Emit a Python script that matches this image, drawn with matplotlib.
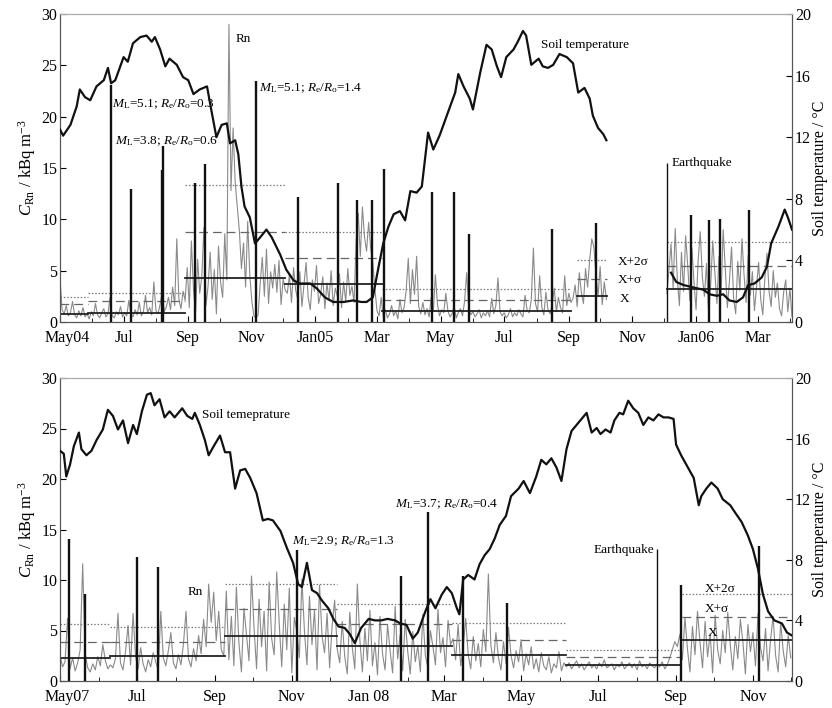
import numpy as np
import matplotlib
matplotlib.use("Agg")
import matplotlib.pyplot as plt
import matplotlib.dates as mdates
import matplotlib.transforms as mtransforms

plt.rcParams["font.family"] = ["Liberation Serif", "DejaVu Serif"]
plt.rcParams["mathtext.fontset"] = "custom"
plt.rcParams["mathtext.rm"] = "Liberation Serif"
plt.rcParams["mathtext.it"] = "Liberation Serif:italic"

NAN = np.nan

# ---------------- panel 1: May 2004 - Apr 2006 ----------------
top_start = "2004-05-01"
top_end_day = 702
top_tick_labels = ["May04", "Jul", "Sep", "Nov", "Jan05", "Mar",
                   "May", "Jul", "Sep", "Nov", "Jan06", "Mar"]

# Rn concentration (kBq m-3), one value every 2 days
top_rn_a = [4.3, 1.2, 0.8, 1.6, 0.6, 0.9, 2.0, 0.7, 0.4, 1.1, 0.6, 1.4, 0.5, 0.8, 0.3,
            1.0, 0.6, 1.8, 0.7, 0.4, 0.9, 1.3, 0.5, 0.8, 2.4, 0.6, 0.4, 1.0, 0.7, 1.5,
            0.5, 0.9, 0.6, 2.1, 0.8, 0.5, 1.2, 0.7, 1.9, 0.6, 1.0, 2.6, 0.9, 1.4, 0.7,
            3.9, 1.1, 0.8, 1.7, 2.9, 1.0, 1.5, 2.4, 1.2, 3.4, 1.6, 8.1, 2.2, 1.3, 3.0]
top_rn_c = [2.1, 5.3, 1.4, 7.9, 3.2, 0.9, 6.1, 2.8, 4.4, 9.2, 1.6, 3.5, 6.8, 2.2, 5.1,
            0.8, 7.4, 3.9, 2.4, 8.6, 4.1,
            29.0, 12.8, 18.9, 13.6, 11.2, 8.9, 5.2, 7.7, 3.4, 9.8, 4.6, 2.0, 0.6, 0.4,
            0.7, 3.8, 6.3, 2.5, 7.1, 1.8, 4.9, 3.3, 5.6, 2.9, 6.0, 1.7, 4.2, 3.1]
top_rn_d = [2.8, 4.6, 1.9, 5.3, 3.1, 2.2, 4.9, 1.5, 3.6, 5.8, 2.4, 1.2, 4.1, 3.0, 5.5,
            1.8, 2.7, 4.4, 1.3, 3.8, 2.1, 5.0, 1.6, 3.3, 2.5, 4.7, 1.4, 3.9, 2.0, 5.2,
            2.6, 3.5, 1.9, 7.8, 10.6, 6.4, 11.2, 8.3, 6.9, 9.7, 7.1, 5.8, 3.2, 1.1, 0.6, 2.4]
top_rn_e = [0.5, 1.2, 0.4, 0.8, 1.6, 0.6, 1.1, 0.3, 2.2, 0.9,
            1.4, 3.1, 6.2, 1.8, 5.1, 2.7, 6.4, 1.5, 0.8, 1.9,
            0.7, 1.3, 0.5, 2.4, 1.0, 4.6, 1.7, 0.6, 1.2, 0.9,
            2.8, 1.1, 0.5, 0.8, 1.5, 0.4, 0.9, 1.3, 0.6, 2.0,
            4.8, 1.4, 0.7, 1.0, 0.5, 0.8, 1.2, 0.4, 0.9, 0.6,
            1.1, 0.5, 2.3, 0.8, 1.6, 4.3, 1.0, 0.6, 0.9, 0.4,
            0.7, 1.3, 0.5, 0.9, 0.6, 1.2, 0.8, 0.5, 2.6, 1.1,
            0.9, 2.2, 7.2, 1.8, 1.0, 4.5, 1.5, 0.7, 2.9, 1.2,
            0.8, 1.7, 3.3, 1.0, 2.4, 1.4, 0.9, 4.5, 1.6, 2.8, 1.9]
top_rn_f = [2.3, 3.6, 1.5, 4.8, 2.9, 1.8, 5.2, 3.4, 6.1, 8.1, 7.3, 4.6, 2.5, 5.4, 1.7,
            3.9, 2.2]
top_rn_gap = [NAN] * 28
top_rn_g = [2.8, 5.1, 7.6, 3.3, 9.1, 4.2, 1.6, 6.8, 3.0, 8.4,
            5.5, 2.1, 7.2, 3.9, 1.2, 6.0, 8.8, 4.4, 2.5, 5.7,
            0.9, 3.6, 7.9, 4.8, 1.8, 6.4, 2.7, 9.0, 5.2, 1.4,
            4.0, 7.3, 2.3, 0.8, 5.9, 3.1, 8.1, 4.6, 1.9, 6.5,
            2.6, 4.9, 1.1, 3.5, 5.8, 2.2, 0.7, 4.3, 6.7, 3.0,
            1.5, 5.0, 2.4, 3.8, 1.3, 0.6, 2.9, 4.1, 1.0, 3.3, 0.5, 2.0]

# soil temperature (deg C), day offset from start
top_temp_day = [0, 3, 10, 16, 19, 24, 29, 35, 42, 46, 49, 53, 61, 65, 70, 77, 83, 88, 91,
                96, 101, 105, 112, 118, 123, 128, 134, 141, 145, 150, 155, 160, 163, 168,
                171, 174, 177, 182, 187, 192, 198, 203, 211, 217, 224, 230, 240, 246, 254,
                262, 272, 281, 289, 294, 300, 305, 310, 315, 320, 326, 331, 336, 342, 347,
                353, 358, 364, 372, 379, 382, 387, 393, 396, 403, 409, 414, 419, 423, 428,
                435, 439, 444, 447, 452, 459, 463, 468, 473, 479, 486, 492, 497, 503, 508,
                511, 516, 521, 524, 555, 586, 591, 598, 604, 610, 617, 623, 630, 636, 642,
                649, 655, 660, 666, 673, 678, 682, 689, 695, 698, 702]
top_temp_val = [12.5, 12.1, 12.8, 14.0, 15.1, 14.6, 14.4, 15.3, 15.7, 16.5, 15.5, 15.7,
                17.2, 16.9, 18.1, 18.5, 18.6, 18.2, 18.5, 17.7, 16.6, 17.1, 16.7, 15.9,
                15.7, 14.8, 15.1, 15.3, 13.8, 12.0, 12.8, 12.9, 11.6, 11.8, 10.9, 8.8,
                7.5, 6.8, 5.1, 5.5, 6.0, 5.5, 4.4, 3.4, 2.7, 2.5, 2.5, 2.2, 1.6, 1.3, 1.3,
                1.4, 1.3, 1.3, 1.6, 3.4, 5.1, 6.2, 7.0, 7.2, 6.6, 8.5, 8.4, 8.8, 12.3,
                11.2, 12.1, 13.6, 14.9, 16.1, 15.3, 14.5, 13.8, 16.2, 18.0, 17.7, 16.6,
                15.9, 17.2, 17.7, 18.2, 18.9, 18.6, 16.7, 17.1, 16.6, 16.5, 16.7, 17.4,
                17.2, 16.8, 14.9, 15.2, 14.5, 13.4, 12.6, 12.2, 11.8, NAN, 3.2, 2.6, 2.4,
                2.3, 2.2, 2.1, 1.8, 1.7, 1.8, 1.4, 1.3, 1.6, 2.4, 2.5, 2.9, 3.6, 5.1, 6.2,
                7.3, 6.8, 6.0]

# earthquakes: day offset and line height (kBq m-3 scale)
top_eq_day = [49, 68, 98, 99, 129, 139, 188, 228, 267, 285, 299, 311, 357, 378, 392,
              472, 514, 582, 605, 622, 633, 661]
top_eq_h = [23.1, 13.0, 14.8, 17.1, 13.5, 15.4, 23.5, 12.2, 13.5, 11.9, 11.9, 14.9,
            12.7, 12.7, 8.6, 9.1, 9.6, 15.5, 10.4, 9.9, 10.0, 10.9]

# period statistics: start/end day, mean X, X+sigma, X+2sigma
top_per_start = [0, 27, 120, 216, 309, 496, 582]
top_per_end = [27, 120, 216, 309, 490, 525, 705]
top_x = [0.8, 0.9, 4.3, 3.7, 1.1, 2.5, 3.2]
top_x1 = [1.8, 2.0, 8.8, 6.2, 2.1, 4.2, 5.5]
top_x2 = [2.4, 2.8, 13.3, 8.8, 3.2, 6.0, 7.8]

# ---------------- panel 2: May 2007 - Dec 2008 ----------------
bot_start = "2007-05-01"
bot_end_day = 581
bot_tick_labels = ["May07", "Jul", "Sep", "Nov", "Jan 08", "Mar",
                   "May", "Jul", "Sep", "Nov"]

bot_rn_a = [2.6, 1.4, 1.9, 6.2, 1.2, 2.3, 1.0, 1.8, 3.1, 11.6, 2.7, 1.3, 0.9, 1.7, 1.1,
            2.4, 1.5, 3.6, 2.0, 1.2, 1.6]
bot_rn_b = [1.3, 2.2, 6.7, 1.8, 1.1, 2.9, 5.5, 1.6, 6.7, 2.4, 1.2, 3.3, 1.7, 0.9, 2.1,
            1.4, 2.8, 1.9, 1.0, 6.9, 2.3, 1.5, 3.0, 4.8, 1.8, 1.2, 2.6, 1.6, 3.7, 6.9,
            2.2, 1.4, 3.2, 2.0, 4.5, 2.7, 6.1, 3.4, 9.6, 5.8, 8.8, 4.0, 6.9, 3.1, 2.5]
bot_rn_c = [8.9, 2.1, 6.4, 1.5, 9.3, 3.8, 0.9, 7.2, 4.6, 2.0, 10.4, 5.3, 1.2, 8.1, 3.4,
            6.9, 1.0, 9.8, 4.2, 2.6, 10.8, 5.7, 1.4, 7.6, 3.1, 9.2, 0.8, 6.3, 4.9, 2.3,
            10.1, 5.0, 1.6, 8.4, 3.6, 7.0, 1.1, 9.5, 4.4, 2.8, 6.7, 1.3, 5.5, 8.0, 3.2]
bot_rn_d = [1.8, 5.9, 2.4, 0.7, 6.8, 3.3, 1.2, 9.6, 4.1, 0.9, 5.2, 2.0, 7.0, 1.5, 3.8,
            0.6, 6.4, 2.7, 1.1, 5.6, 3.0, 0.8, 7.4, 2.2, 4.6, 1.0, 6.1, 2.9, 0.7, 4.9,
            1.9, 3.5, 0.9, 6.6, 2.5, 1.3, 5.0, 3.4, 1.6, 7.1, 2.8, 4.3, 1.4, 6.0, 3.6]
bot_rn_e = [4.2, 2.1, 5.6, 1.5, 3.3, 6.2, 2.6, 1.2, 4.4, 2.0, 3.7, 1.4, 5.1, 2.9, 10.6,
            3.5, 1.8, 4.8, 2.3, 1.1, 3.9, 1.7, 5.3, 2.5, 1.3, 3.0, 1.9, 4.1, 1.0, 2.7,
            1.6, 3.4, 1.2, 2.2, 0.9, 2.8, 1.5, 1.1, 2.4, 0.8, 1.7, 1.3, 2.9, 1.0, 1.8]
bot_rn_f = [1.4, 1.8, 1.2, 1.6, 2.0, 1.3, 1.7, 1.1, 1.5, 1.9, 1.3, 1.6, 1.2, 1.8, 1.4,
            2.1, 1.3, 1.5, 1.7, 1.1, 1.6, 1.4, 1.9, 1.2, 1.5, 1.8, 1.3, 1.7, 1.1, 2.0,
            1.4, 1.6, 1.2, 1.8, 1.5, 1.3, 1.7, 1.4, 1.9, 1.2, 1.6, 2.3, 3.1, 3.9, 3.4]
bot_rn_g = [4.6, 2.1, 6.3, 3.2, 0.9, 5.4, 2.6, 6.9, 3.8, 1.3, 5.9, 2.4, 4.7, 0.8, 6.5,
            3.1, 1.7, 5.0, 2.8, 6.8, 3.6, 1.1, 4.4, 2.2, 6.1, 3.9, 0.7, 5.6, 2.9, 4.8,
            1.5, 6.7, 3.3, 2.0, 5.2, 1.0, 4.1, 6.4, 2.5, 0.9, 5.8, 3.0, 1.4, 4.5, 2.3]

bot_temp_day = [0, 3, 5, 8, 11, 15, 17, 21, 25, 29, 34, 38, 42, 46, 50, 54, 58, 61, 65,
                69, 72, 75, 79, 83, 87, 91, 97, 101, 105, 107, 111, 115, 118, 122, 127,
                131, 135, 139, 143, 147, 151, 156, 161, 165, 169, 175, 180, 185, 189, 192,
                196, 200, 204, 208, 213, 217, 221, 226, 230, 234, 239, 245, 250, 255, 260,
                266, 270, 275, 280, 284, 290, 294, 298, 303, 307, 311, 315, 317, 320, 324,
                329, 333, 337, 341, 345, 349, 354, 358, 364, 368, 373, 378, 382, 386, 390,
                394, 398, 402, 406, 410, 414, 418, 422, 426, 429, 433, 437, 440, 444, 447,
                451, 455, 459, 463, 467, 471, 475, 479, 483, 487, 489, 493, 497, 503, 507,
                509, 513, 517, 522, 526, 532, 536, 541, 546, 550, 554, 558, 562, 567, 573,
                577, 581]
bot_temp_val = [15.2, 15.0, 13.5, 14.3, 15.5, 16.4, 15.3, 14.9, 15.2, 15.9, 16.6, 17.9,
                17.5, 16.6, 17.2, 15.7, 16.9, 16.3, 17.8, 18.9, 19.0, 18.2, 18.6, 17.4,
                17.8, 17.4, 18.0, 17.5, 17.3, 17.7, 16.9, 15.9, 14.9, 15.5, 16.2, 15.1,
                15.1, 12.7, 13.9, 14.0, 13.4, 12.4, 10.6, 10.7, 10.6, 9.9, 8.8, 7.8, 6.4,
                6.2, 7.8, 6.0, 5.8, 5.3, 4.8, 4.1, 3.6, 3.5, 3.1, 2.5, 3.5, 4.1, 4.0, 4.0,
                4.1, 4.0, 3.8, 3.7, 2.8, 3.2, 4.6, 5.4, 4.8, 5.7, 6.2, 5.8, 4.8, 4.4, 6.7,
                7.0, 6.7, 7.7, 8.3, 8.7, 9.4, 10.3, 10.9, 12.2, 12.7, 13.2, 12.4, 13.5,
                14.6, 14.3, 14.7, 14.1, 13.2, 15.3, 16.5, 16.9, 17.3, 17.7, 16.4, 16.7,
                16.3, 16.6, 16.4, 17.2, 17.7, 17.6, 18.5, 18.0, 17.7, 16.9, 17.4, 17.2,
                17.6, 17.4, 17.4, 17.3, 15.6, 14.9, 14.3, 13.4, 11.6, 12.2, 12.7, 13.1,
                12.7, 12.0, 11.6, 11.1, 10.5, 9.6, 8.7, 7.4, 5.7, 4.6, 4.0, 3.8, 3.2, 3.0]

bot_eq_day = [7, 20, 61, 78, 188, 271, 292, 320, 355, 474, 493, 555]
bot_eq_h = [14.1, 8.6, 12.3, 11.3, 13.0, 10.4, 16.7, 10.4, 7.7, 13.1, 9.5, 13.4]

bot_per_start = [0, 40, 131, 220, 311, 402, 494]
bot_per_end = [40, 131, 220, 311, 402, 492, 581]
bot_x = [2.3, 2.5, 4.5, 3.45, 2.6, 1.6, 4.1]
bot_x1 = [3.9, 3.9, 7.1, 5.6, 4.1, 2.4, 6.3]
bot_x2 = [5.6, 5.3, 9.6, 7.6, 5.7, 3.1, 8.6]

ML_TXT = r"$M_{\rm L}$=%s; $R_{\rm e}/R_{\rm o}$=%s"


def days_to_dates(start, days):
    t0 = np.datetime64(start, "D")
    return t0 + np.asarray(days).astype("timedelta64[D]")


def draw_panel(fig, ax, start, end_day, rn, t_day, t_val, eq_day, eq_h, thin_eq,
               per_s, per_e, px, px1, px2, tick_labels, texts):
    rn = np.asarray(rn, dtype=float)
    rn_t = days_to_dates(start, np.arange(len(rn)) * 2)
    ax.plot(rn_t, rn, color="#8a8a8a", lw=0.8, zorder=2)

    # period mean and sigma levels
    for s, e, a, b, c in zip(per_s, per_e, px, px1, px2):
        ts = days_to_dates(start, [s, e])
        ax.plot(ts, [a, a], color="#222222", lw=1.3, zorder=3)
        ax.plot(ts, [b, b], color="#666666", lw=0.9, dashes=(7, 4), zorder=3)
        ax.plot(ts, [c, c], color="#7a7a7a", lw=0.9, dashes=(1.2, 1.5), zorder=3)

    # earthquake markers
    for i, (d, h) in enumerate(zip(eq_day, eq_h)):
        t = days_to_dates(start, [d])[0]
        lw = 1.0 if i == thin_eq else 1.7
        ax.vlines(t, 0, h, color="#111111", lw=lw, zorder=4)

    ax.set_ylim(0, 30)
    ax.set_yticks(range(0, 31, 5))
    t_lim = days_to_dates(start, [0, end_day])
    ax.set_xlim(t_lim[0], t_lim[1])

    months = np.arange(np.datetime64(start[:7], "M"),
                       np.datetime64(start[:7], "M") + 2 * len(tick_labels), 2)
    ax.set_xticks(mdates.date2num(months.astype("datetime64[D]")))
    ax.set_xticklabels(tick_labels)
    ax.xaxis.set_minor_locator(mdates.MonthLocator())
    ax.tick_params(axis="both", which="major", direction="in", labelsize=11.5,
                   length=4, pad=2)
    ax.tick_params(axis="x", which="major", pad=6)
    ax.tick_params(axis="x", which="minor", direction="in", length=3)
    ax.set_ylabel(r"$C_{\rm Rn}$ / kBq m$^{-3}$", fontsize=12, labelpad=2)
    # first month label sits a little right of the corner, as in the source
    first = ax.get_xticklabels()[0]
    first.set_transform(first.get_transform() +
                        mtransforms.ScaledTranslation(7 / 100, 0, fig.dpi_scale_trans))

    ax2 = ax.twinx()
    ax2.plot(days_to_dates(start, t_day), t_val, color="#111111", lw=1.6, zorder=5)
    ax2.set_ylim(0, 20)
    ax2.set_yticks(range(0, 21, 4))
    ax2.tick_params(axis="y", direction="in", labelsize=11.5, length=4, pad=2)
    ax2.set_ylabel("Soil temperature / \u00b0C", fontsize=11.5, labelpad=1)

    for a in (ax, ax2):
        a.spines["top"].set_color("#aaaaaa")
        for s in ("left", "bottom", "right"):
            a.spines[s].set_color("#555555")

    for d, y, s, ha in texts:
        ax.text(days_to_dates(start, [d])[0], y, s, fontsize=9.5, ha=ha, va="center",
                zorder=6)


fig = plt.figure(figsize=(8.32, 7.08), dpi=100)
ax_top = fig.add_axes([60 / 832, 386 / 708, 732 / 832, 308 / 708])
ax_bot = fig.add_axes([60 / 832, 27 / 708, 732 / 832, 303 / 708])

top_texts = [
    (168, 27.6, "Rn", "left"),
    (50, 21.2, ML_TXT % ("5.1", "0.3"), "left"),
    (53, 17.6, ML_TXT % ("3.8", "0.6"), "left"),
    (191, 22.8, ML_TXT % ("5.1", "1.4"), "left"),
    (461, 27.0, "Soil temperature", "left"),
    (587, 15.5, "Earthquake", "left"),
    (535, 5.8, "X+2\u03c3", "left"),
    (535, 4.1, "X+\u03c3", "left"),
    (537, 2.2, "X", "left"),
]
bot_texts = [
    (113, 26.3, "Soil temeprature", "left"),
    (101, 8.8, "Rn", "left"),
    (184, 13.8, ML_TXT % ("2.9", "1.3"), "left"),
    (266, 17.5, ML_TXT % ("3.7", "0.4"), "left"),
    (472, 13.0, "Earthquake", "right"),
    (512, 9.1, "X+2\u03c3", "left"),
    (512, 7.1, "X+\u03c3", "left"),
    (514, 4.8, "X", "left"),
]

top_rn = top_rn_a + top_rn_c + top_rn_d + top_rn_e + top_rn_f + top_rn_gap + top_rn_g
bot_rn = bot_rn_a + bot_rn_b + bot_rn_c + bot_rn_d + bot_rn_e + bot_rn_f + bot_rn_g

draw_panel(fig, ax_top, top_start, top_end_day, top_rn, top_temp_day, top_temp_val,
           top_eq_day, top_eq_h, 17, top_per_start, top_per_end,
           top_x, top_x1, top_x2, top_tick_labels, top_texts)
draw_panel(fig, ax_bot, bot_start, bot_end_day, bot_rn, bot_temp_day, bot_temp_val,
           bot_eq_day, bot_eq_h, 9, bot_per_start, bot_per_end,
           bot_x, bot_x1, bot_x2, bot_tick_labels, bot_texts)

fig.savefig("out.png", dpi=100)
